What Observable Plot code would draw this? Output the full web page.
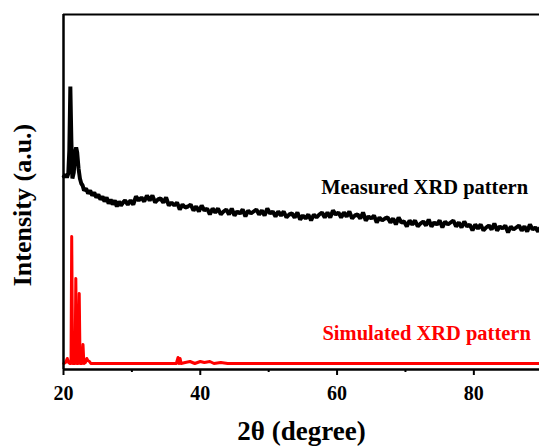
<!DOCTYPE html>
<html>
<head>
<meta charset="utf-8">
<script src="https://cdn.jsdelivr.net/npm/d3@7"></script>
<script src="https://cdn.jsdelivr.net/npm/@observablehq/plot@0.6"></script>
<style>
  html, body { margin: 0; padding: 0; background: #fff; }
  #chart svg { display: block; }
  #chart svg, #chart svg text { font-family: "Liberation Serif", "Times New Roman", serif !important; }
</style>
</head>
<body>
<div id="chart"></div>
<script>
// 2θ (degree), intensity (a.u.) pairs
const measured = [
  [20.05,193],[20.3,195],[20.5,192],[20.7,196],[20.85,219],[21.0,283],[21.15,229],[21.3,191],
  [21.5,197],[21.7,217],[21.85,222],[22.0,217],[22.2,201],[22.4,191],[22.6,186],[22.8,184],
  [23.0,179],[23.3,181],[23.6,176],[23.9,179],[24.2,174],[24.5,177],[24.8,172],[25.1,175],
  [25.4,170],[25.7,173],[26.0,168],[26.3,172],[26.6,166],[26.9,170],[27.2,165],[27.5,169],
  [27.8,163],[28.1,168],[28.4,164],[28.7,167],
  [29.0,169],[29.4,165],[29.8,169],[30.2,165],[30.6,173],[31.0,169],[31.4,172],[31.8,168],
  [32.2,174],[32.6,169],[33.0,174],[33.4,167],[33.8,170],[34.2,171],[34.6,167],[35.0,172],
  [35.4,164],[35.8,167],[36.2,164],[36.6,167],[37.0,160],[37.4,165],[37.8,162],[38.2,163],
  [38.6,165],[39.0,159],[39.4,163],[39.8,158],[40.2,164],[40.6,159],[41.0,161],[41.4,155],
  [41.8,161],[42.2,157],[42.6,161],[43.0,155],[43.4,158],[43.8,160],[44.2,155],[44.6,161],
  [45.0,154],[45.4,158],[45.8,156],[46.2,160],[46.6,153],[47.0,159],[47.4,156],[47.8,158],
  [48.2,160],[48.6,155],[49.0,159],[49.4,154],[49.8,161],[50.2,156],[50.6,158],[51.0,153],
  [51.4,158],[51.8,154],[52.2,158],[52.6,152],[53.0,155],[53.4,156],[53.8,152],[54.2,157],
  [54.6,150],[55.0,154],[55.4,151],[55.8,155],[56.2,149],[56.6,155],[57.0,152],[57.4,155],
  [57.8,157],[58.2,152],[58.6,157],[59.0,152],[59.4,159],[59.8,155],[60.2,157],[60.6,152],
  [61.0,157],[61.4,153],[61.8,158],[62.2,151],[62.6,154],[63.0,155],[63.4,151],[63.8,157],
  [64.2,149],[64.6,153],[65.0,151],[65.4,154],[65.8,147],[66.2,152],[66.6,149],[67.0,151],
  [67.4,152],[67.8,147],[68.2,151],[68.6,145],[69.0,152],[69.4,147],[69.8,148],[70.2,143],
  [70.6,149],[71.0,145],[71.4,149],[71.8,143],[72.2,146],[72.6,148],[73.0,144],[73.4,150],
  [73.8,143],[74.2,147],[74.6,145],[75.0,149],[75.4,142],[75.8,148],[76.2,145],[76.6,147],
  [77.0,149],[77.4,143],[77.8,147],[78.2,142],[78.6,148],[79.0,143],[79.4,145],[79.8,139],
  [80.2,145],[80.6,141],[81.0,145],[81.4,139],[81.8,142],[82.2,144],[82.6,140],[83.0,146],
  [83.4,139],[83.8,143],[84.2,141],[84.6,144],[85.0,137],[85.4,143],[85.8,140],[86.2,142],
  [86.6,144],[87.0,139],[87.4,143],[87.8,138],[88.2,145],[88.6,140],[89.0,142],[89.4,138],
  [89.6,141]
];

const simulated = [
  [20.05,6],[20.3,7],[20.55,11],[20.75,7],[20.95,6],[21.1,6],[21.2,133],[21.33,6],
  [21.55,6],[21.7,6],[21.8,91],[21.92,6],[22.15,6],[22.3,76],[22.42,6],[22.7,6],
  [22.85,25],[22.98,6],[23.2,7],[23.4,11],[23.55,9],[23.8,8],[24.0,6],[24.5,6],
  [25.5,6],[26.5,6],[27.5,6],[28.5,6],[29.5,6],[30.5,6],[31.5,6],[32.5,6],[33.5,6],
  [34.5,6],[35.5,6],[36.5,6],[36.75,12],[36.9,6],[37.05,11],[37.2,6],[37.8,7],[38.5,8],
  [39.2,6],[40.0,8],[40.6,7],[41.4,8],[42.0,6],[43.0,7],[44.0,6],[45,6],[46,6],[47,6],
  [48,6],[49,6],[50,6],[52,6],[54,6],[56,6],[58,6],[60,6],[62,6],[64,6],[66,6],[68,6],
  [70,6],[72,6],[74,6],[76,6],[78,6],[80,6],[82,6],[84,6],[86,6],[88,6],[89.6,6]
];

const majorTicks = [20, 40, 60, 80];
const minorTicks = [30, 50, 70];
const xDomain = [20, 89.6];
const yDomain = [0, 355];

const labels = [
  {x: 72.8, y: 182, text: "Measured XRD pattern", color: "#000"},
  {x: 73.1, y: 36, text: "Simulated XRD pattern", color: "#ff0000"}
];

const serif = "Liberation Serif";

const chart = Plot.plot({
  width: 539,
  height: 446,
  marginLeft: 63,
  marginRight: 0,
  marginTop: 14,
  marginBottom: 77,
  style: {background: "#fff", overflow: "visible"},
  x: {domain: xDomain},
  y: {domain: yDomain, axis: null},
  marks: [
    Plot.line(simulated, {x: d => d[0], y: d => d[1], stroke: "#ff0000", strokeWidth: 3, curve: "linear"}),
    Plot.line(measured, {x: d => d[0], y: d => d[1], stroke: "#000", strokeWidth: 4, strokeLinejoin: "miter", curve: "linear"}),
    Plot.ruleX([xDomain[0]], {stroke: "#000", strokeWidth: 2.5}),
    Plot.ruleY([yDomain[0]], {stroke: "#000", strokeWidth: 2.5}),
    Plot.ruleY([yDomain[1]], {stroke: "#000", strokeWidth: 2}),
    Plot.axisX({ticks: majorTicks, tickSize: 6, tickPadding: 10, tickFormat: d => String(d),
      fontSize: 20, fontWeight: "bold", fontFamily: serif, stroke: "#000", strokeWidth: 2, label: null}),
    Plot.axisX({ticks: minorTicks, tickSize: 3, tickFormat: () => "", stroke: "#000", strokeWidth: 2, label: null}),
    Plot.text(labels, {x: "x", y: "y", text: "text", fill: "color", fontSize: 20.5, fontWeight: "bold", fontFamily: serif, textAnchor: "middle"}),
    Plot.text(["2θ (degree)"], {frameAnchor: "bottom", dy: 70, fontSize: 27, fontWeight: "bold", fontFamily: serif, fill: "#000", textAnchor: "middle"}),
    Plot.text(["Intensity (a.u.)"], {frameAnchor: "left", dx: -41, dy: 13, rotate: -90, fontSize: 26, fontWeight: "bold", fontFamily: serif, fill: "#000", textAnchor: "middle"})
  ]
});

document.getElementById("chart").appendChild(chart);
</script>
</body>
</html>
